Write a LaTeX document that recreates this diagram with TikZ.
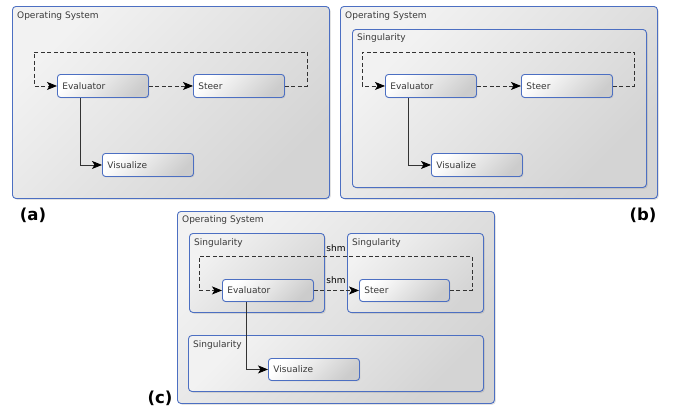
\documentclass[tikz,border=0pt]{standalone}
\usepackage{fontspec}
\setmainfont{DejaVu Sans}
\usetikzlibrary{arrows.meta,shadows}
\definecolor{bordblue}{HTML}{4C6FC2}
\definecolor{txtgray}{HTML}{3A3A3A}
\tikzset{
  container/.style={draw=bordblue, line width=0.9pt, rounded corners=3.5pt,
    top color=white!95!black, bottom color=black!17, shading angle=45,
    drop shadow={shadow xshift=1.3pt, shadow yshift=-1.3pt, opacity=0.22},
    anchor=north west, inner sep=0pt},
  proc/.style={draw=bordblue, line width=0.9pt, rounded corners=3pt,
    top color=white, bottom color=black!20, shading angle=45,
    drop shadow={shadow xshift=1pt, shadow yshift=-1pt, opacity=0.2},
    anchor=north west, inner xsep=5pt, inner ysep=0pt, align=left,
    font=\fontsize{9}{10}\selectfont, text=txtgray},
  boxlabel/.style={anchor=west, inner sep=0pt, font=\fontsize{9}{10}\selectfont, text=txtgray},
  panel/.style={inner sep=0pt, font=\fontsize{16.5}{18}\selectfont\bfseries, text=black},
  tipstyle/.style={-{Stealth[length=10pt,width=8pt,inset=2.5pt,fill=black,color=black]}},
  flowdash/.style={draw=black!80, line width=0.8pt, dash pattern=on 4pt off 2.5pt, tipstyle},
  flowsolid/.style={draw=black!80, line width=0.8pt, tipstyle},
}
\begin{document}
\begin{tikzpicture}[x=1pt,y=-1pt]
\useasboundingbox (0,0) rectangle (673,410);
% ---------- (a)
\node[container, minimum width=317pt, minimum height=192pt] (osa) at (12,6) {};
\node[boxlabel] (osal) at (17,16) {Operating System};
\node[proc, minimum width=91pt, minimum height=23pt, text width=81pt] (ea) at (57,74) {Evaluator};
\node[proc, minimum width=91pt, minimum height=23pt, text width=81pt] (sa) at (193,74) {Steer};
\node[proc, minimum width=91pt, minimum height=23pt, text width=81pt] (va) at (102,153) {Visualize};
\coordinate (la1) at (307,52);
\coordinate (la2) at (34,52);
\draw[flowdash] (ea.east) -- (sa.west);
\draw[flowdash] (sa.east) -| (la1) -- (la2) |- (ea.west);
\draw[flowsolid] ([xshift=-22.5pt]ea.south) |- (va.west);
\node[panel] (pa) at (33,215) {(a)};
% ---------- (b)
\node[container, minimum width=317pt, minimum height=192pt] (osb) at (340,6) {};
\node[boxlabel] (osbl) at (345,16) {Operating System};
\node[container, minimum width=294pt, minimum height=158pt] (sgb) at (352,29) {};
\node[boxlabel] (sgbl) at (357,38) {Singularity};
\node[proc, minimum width=91pt, minimum height=23pt, text width=81pt] (eb) at (385,74) {Evaluator};
\node[proc, minimum width=91pt, minimum height=23pt, text width=81pt] (sb) at (521,74) {Steer};
\node[proc, minimum width=91pt, minimum height=23pt, text width=81pt] (vb) at (431,153) {Visualize};
\coordinate (lb1) at (634,52);
\coordinate (lb2) at (362,52);
\draw[flowdash] (eb.east) -- (sb.west);
\draw[flowdash] (sb.east) -| (lb1) -- (lb2) |- (eb.west);
\draw[flowsolid] ([xshift=-22.5pt]eb.south) |- (vb.west);
\node[panel] (pb) at (643,215) {(b)};
% ---------- (c)
\node[container, minimum width=317pt, minimum height=192pt] (osc) at (177,211) {};
\node[boxlabel] (oscl) at (182,220) {Operating System};
\node[container, minimum width=135pt, minimum height=79pt] (sg1) at (189,233) {};
\node[boxlabel] (sg1l) at (194,243) {Singularity};
\node[container, minimum width=136pt, minimum height=79pt] (sg2) at (347,233) {};
\node[boxlabel] (sg2l) at (352,243) {Singularity};
\node[container, minimum width=295pt, minimum height=56pt] (sg3) at (188,335) {};
\node[boxlabel] (sg3l) at (193,345) {Singularity};
\node[proc, minimum width=91pt, minimum height=22pt, text width=81pt] (ec) at (222,279) {Evaluator};
\node[proc, minimum width=90pt, minimum height=22pt, text width=80pt] (sc) at (359,279) {Steer};
\node[proc, minimum width=91pt, minimum height=22pt, text width=81pt] (vc) at (268,358) {Visualize};
\coordinate (lc1) at (472,256);
\coordinate (lc2) at (199,256);
\draw[flowdash] (ec.east) -- (sc.west);
\draw[flowdash] (sc.east) -| (lc1) -- (lc2) |- (ec.west);
\draw[flowsolid] ([xshift=-21.5pt]ec.south) |- (vc.west);
\node[boxlabel, anchor=center, text=black] (shm1) at (336,248) {shm};
\node[boxlabel, anchor=center, text=black] (shm2) at (336,280) {shm};
\node[panel] (pc) at (160,398) {(c)};
\end{tikzpicture}
\end{document}
